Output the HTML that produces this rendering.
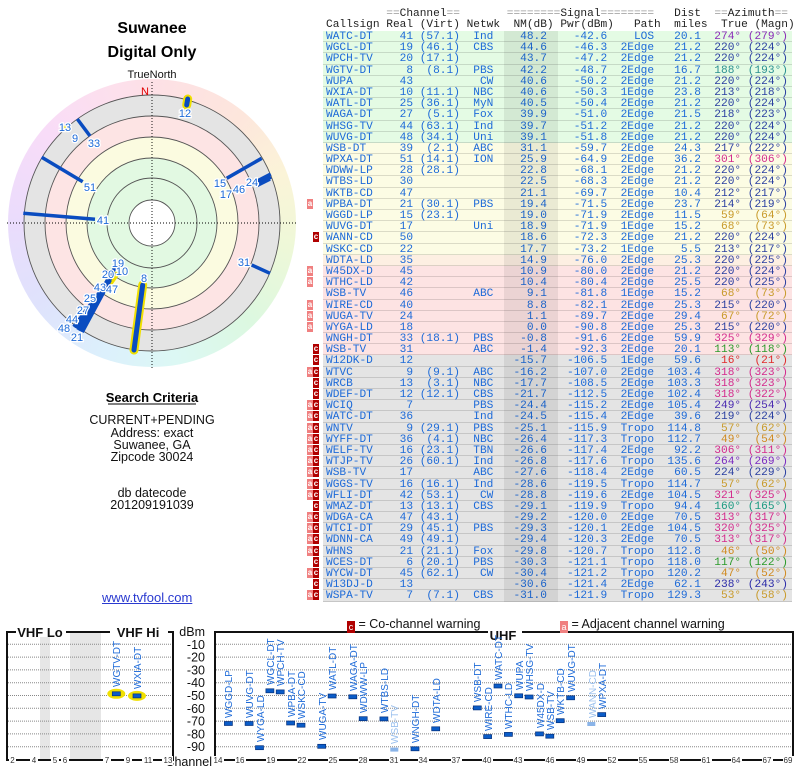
<!DOCTYPE html>
<html><head><meta charset="utf-8">
<style>
body{margin:0;width:800px;height:768px;background:#fff;position:relative;overflow:hidden;font-family:"Liberation Sans",sans-serif}
#svg{position:absolute;left:0;top:0}
.ring{position:absolute;left:8px;top:79px;width:288px;height:288px;border-radius:50%;
background:conic-gradient(from 0deg,#fde0e6,#fde6dc 40deg,#fbf4d8 70deg,#eef8d8 100deg,#dcf8e0 135deg,#dcf8f4 170deg,#dcf0fc 200deg,#dfe2fc 235deg,#eadcfc 270deg,#f8dcf8 310deg,#fde0ec 345deg,#fde0e6)}
.hd{position:absolute;left:326px;font:11.17px "Liberation Mono",monospace;white-space:pre;color:#222;line-height:11px}
.hd i{font-style:normal;color:#999}
#tb{position:absolute;left:323px;top:31px;width:469px}
#tb div{position:relative;height:11.2px;line-height:11.2px;padding-left:3px;box-sizing:border-box;border-bottom:1px solid rgba(0,0,0,0.13);font:11.17px "Liberation Mono",monospace;white-space:pre;color:#1d6ad8}
.g{background:#e4fbe4}.y{background:#fcfce4}.p{background:#fdefe2}.k{background:#fde3e3}.x{background:#e4e4e4}
b.a,b.c{position:absolute;top:0;width:6px;height:10px;font:bold 8px "Liberation Sans",sans-serif;line-height:10px;text-align:center;color:#fff}
b.a{left:-16px;background:#f08080}b.c{left:-10px;background:#b00000}
.nv{color:#2a3fa0}.pp{color:#8a2bb8}.tl{color:#2a9090}.mg{color:#d42a8c}.gd{color:#c89a2a}.gr{color:#2a9a2a}.rd{color:#e02a2a}.or{color:#d08a20}.v2{color:#4a2ab0}.pu{color:#7a2ac0}.tg{color:#1a9a80}.n2{color:#2a2aa8}
#shade{position:absolute;left:504px;top:31px;width:54px;height:571px;background:rgba(0,0,0,0.07)}
.lg{position:absolute;top:617px;font:12.5px "Liberation Sans",sans-serif;color:#111;white-space:pre}
.lg b{display:inline-block;width:8px;height:12px;color:#fff;font:9px "Liberation Sans",sans-serif;line-height:12px;text-align:center;vertical-align:-2px}
a.u{position:absolute;left:102px;top:590px;font:13px "Liberation Sans",sans-serif;color:#2a3ad0;text-decoration:underline}
</style></head><body>
<div class="ring"></div>
<svg id="svg" width="800" height="768" xmlns="http://www.w3.org/2000/svg" font-family="Liberation Sans, sans-serif">
<!-- polar -->
<circle cx="152" cy="223" r="128" fill="#e4e4e4"/>
<circle cx="152" cy="223" r="107" fill="#fde4e4"/>
<circle cx="152" cy="223" r="86" fill="#fbfbe0"/>
<circle cx="152" cy="223" r="65" fill="#e2f9e2"/>
<circle cx="152" cy="223" r="23" fill="#fff"/>
<g fill="none" stroke="#555" stroke-width="0.9">
<circle cx="152" cy="223" r="23"/><circle cx="152" cy="223" r="45"/><circle cx="152" cy="223" r="65"/>
<circle cx="152" cy="223" r="86"/><circle cx="152" cy="223" r="107"/><circle cx="152" cy="223" r="128"/>
</g>
<g stroke="#000" stroke-width="0.9" stroke-dasharray="1,2">
<line x1="7" y1="223" x2="297" y2="223"/><line x1="152" y1="82" x2="152" y2="368"/>
</g>
<text x="152" y="33" font-size="16" font-weight="bold" text-anchor="middle">Suwanee</text>
<text x="152" y="57" font-size="16" font-weight="bold" text-anchor="middle">Digital Only</text>
<text x="152" y="78" font-size="11" text-anchor="middle" fill="#111">TrueNorth</text>
<text x="145" y="95" font-size="11" text-anchor="middle" fill="#e00000">N</text>
<g stroke-linecap="round">
<line x1="187.7" y1="99" x2="186.7" y2="105" stroke="#f0e000" stroke-width="9"/>
<line x1="187.7" y1="99" x2="186.7" y2="105" stroke="#0a4cc0" stroke-width="5"/>
<circle cx="67" cy="128" r="4" fill="#f0e000"/>
<line x1="142.7" y1="285" x2="134" y2="350" stroke="#f0e000" stroke-width="9"/>
<line x1="142.7" y1="285" x2="134" y2="350" stroke="#0a4cc0" stroke-width="5"/>
<line x1="115" y1="275" x2="110" y2="282" stroke="#f0e000" stroke-width="7"/>
</g>
<g stroke="#0a4cc0" stroke-width="3.5">
<line x1="77.3" y1="119" x2="90" y2="136"/>
<line x1="41.7" y1="157.3" x2="82.7" y2="181.7"/>
<line x1="23.3" y1="213.3" x2="95" y2="219.3"/>
<line x1="261.7" y1="158.3" x2="226.7" y2="178.3"/>
<line x1="270.7" y1="174" x2="256.7" y2="181.3"/>
<line x1="271" y1="177" x2="257" y2="184"/>
<line x1="270" y1="179" x2="256" y2="186"/>
<line x1="251.7" y1="265" x2="270" y2="273.3"/>
<line x1="116" y1="266" x2="78" y2="330" stroke-width="4"/>
<line x1="114" y1="272" x2="80" y2="331" stroke-width="4"/>
<line x1="110" y1="280" x2="82" y2="332" stroke-width="4"/>
<line x1="106" y1="285" x2="76" y2="328" stroke-width="4"/>
<line x1="100" y1="292" x2="74" y2="327" stroke-width="4"/>
</g>
<g font-size="11" fill="#1d6ad8" text-anchor="middle" stroke="#fff" stroke-width="2.5" paint-order="stroke">
<text x="185" y="117">12</text><text x="65" y="131">13</text><text x="75" y="142">9</text>
<text x="94" y="147">33</text><text x="90" y="191">51</text><text x="103" y="224">41</text>
<text x="220" y="187">15</text><text x="226" y="198">17</text><text x="239" y="193">46</text><text x="252" y="186">24</text>
<text x="244" y="266">31</text><text x="144" y="282">8</text>
<text x="118" y="267">19</text><text x="122" y="275">10</text><text x="108" y="278">20</text>
<text x="100" y="291">43</text><text x="112" y="293">47</text><text x="90" y="302">25</text>
<text x="83" y="314">27</text><text x="72" y="323">44</text><text x="64" y="332">48</text><text x="77" y="341">21</text>
</g>
<!-- left info -->
<text x="152" y="402" font-size="13" font-weight="bold" text-anchor="middle">Search Criteria</text>
<line x1="108" y1="404" x2="196" y2="404" stroke="#000" stroke-width="1"/>
<g font-size="12.5" text-anchor="middle" fill="#111">
<text x="152" y="424">CURRENT+PENDING</text><text x="152" y="437">Address: exact</text>
<text x="152" y="449">Suwanee, GA</text><text x="152" y="461">Zipcode 30024</text>
<text x="152" y="497">db datecode</text><text x="152" y="509">201209191039</text>
</g>
<!-- bottom chart -->
<rect x="40" y="633" width="10" height="126" fill="#e6e6e6"/>
<rect x="70" y="633" width="31" height="126" fill="#e6e6e6"/>
<g stroke="#888" stroke-width="1" stroke-dasharray="1,1">
<line x1="8" y1="644.3" x2="172" y2="644.3"/><line x1="8" y1="657.1" x2="172" y2="657.1"/><line x1="8" y1="669.9" x2="172" y2="669.9"/><line x1="8" y1="682.7" x2="172" y2="682.7"/><line x1="8" y1="695.5" x2="172" y2="695.5"/><line x1="8" y1="708.3" x2="172" y2="708.3"/><line x1="8" y1="721.1" x2="172" y2="721.1"/><line x1="8" y1="733.9" x2="172" y2="733.9"/><line x1="8" y1="746.7" x2="172" y2="746.7"/>
<line x1="216" y1="644.3" x2="792" y2="644.3"/><line x1="216" y1="657.1" x2="792" y2="657.1"/><line x1="216" y1="669.9" x2="792" y2="669.9"/><line x1="216" y1="682.7" x2="792" y2="682.7"/><line x1="216" y1="695.5" x2="792" y2="695.5"/><line x1="216" y1="708.3" x2="792" y2="708.3"/><line x1="216" y1="721.1" x2="792" y2="721.1"/><line x1="216" y1="733.9" x2="792" y2="733.9"/><line x1="216" y1="746.7" x2="792" y2="746.7"/>
</g>
<rect x="7" y="632" width="166" height="128" fill="none" stroke="#111" stroke-width="2"/>
<rect x="215" y="632" width="578" height="128" fill="none" stroke="#111" stroke-width="2"/>
<rect x="16" y="625" width="50" height="12" fill="#fff"/><rect x="110" y="625" width="58" height="12" fill="#fff"/>
<rect x="488" y="625" width="34" height="14" fill="#fff"/>
<g font-size="13" font-weight="bold" text-anchor="middle" fill="#111">
<text x="40" y="637">VHF Lo</text><text x="138" y="637">VHF Hi</text><text x="503" y="640">UHF</text>
</g>
<g font-size="12.5" text-anchor="end" fill="#111">
<text x="205" y="636">dBm</text>
<text x="205" y="648.8">-10</text><text x="205" y="661.6">-20</text><text x="205" y="674.4">-30</text><text x="205" y="687.2">-40</text><text x="205" y="700">-50</text><text x="205" y="712.8">-60</text><text x="205" y="725.6">-70</text><text x="205" y="738.4">-80</text><text x="205" y="751.2">-90</text>
<text x="212" y="766">Channel</text>
</g>
<g font-size="8" text-anchor="middle" fill="#333">
<g fill="#fff"><rect x="9" y="756" width="7" height="9"/><rect x="30" y="756" width="8" height="9"/><rect x="51" y="756" width="8" height="9"/><rect x="61" y="756" width="8" height="9"/><rect x="103" y="756" width="8" height="9"/><rect x="124" y="756" width="8" height="9"/><rect x="142" y="756" width="11" height="9"/><rect x="162" y="756" width="11" height="9"/>
<rect x="213" y="756" width="11" height="9"/><rect x="235" y="756" width="11" height="9"/><rect x="266" y="756" width="11" height="9"/><rect x="297" y="756" width="11" height="9"/><rect x="328" y="756" width="11" height="9"/><rect x="358" y="756" width="11" height="9"/><rect x="389" y="756" width="11" height="9"/><rect x="418" y="756" width="11" height="9"/><rect x="451" y="756" width="11" height="9"/><rect x="482" y="756" width="11" height="9"/><rect x="513" y="756" width="11" height="9"/><rect x="545" y="756" width="11" height="9"/><rect x="576" y="756" width="11" height="9"/><rect x="607" y="756" width="11" height="9"/><rect x="638" y="756" width="11" height="9"/><rect x="669" y="756" width="11" height="9"/><rect x="701" y="756" width="11" height="9"/><rect x="731" y="756" width="11" height="9"/><rect x="762" y="756" width="11" height="9"/><rect x="783" y="756" width="11" height="9"/></g>
<text x="12.5" y="763">2</text><text x="34" y="763">4</text><text x="55" y="763">5</text><text x="65" y="763">6</text><text x="107" y="763">7</text><text x="128" y="763">9</text><text x="148" y="763">11</text><text x="168" y="763">13</text>
<text x="218" y="763">14</text><text x="240" y="763">16</text><text x="271" y="763">19</text><text x="302" y="763">22</text><text x="333" y="763">25</text><text x="363" y="763">28</text><text x="394" y="763">31</text><text x="423" y="763">34</text><text x="456" y="763">37</text><text x="487" y="763">40</text><text x="518" y="763">43</text><text x="550" y="763">46</text><text x="581" y="763">49</text><text x="612" y="763">52</text><text x="643" y="763">55</text><text x="674" y="763">58</text><text x="706" y="763">61</text><text x="736" y="763">64</text><text x="767" y="763">67</text><text x="788" y="763">69</text>
</g>
<ellipse cx="116.3" cy="693.8" rx="9" ry="5" fill="#f0e000"/>
<ellipse cx="137" cy="695.9" rx="9" ry="5" fill="#f0e000"/>
<g fill="#0a5cc8" stroke="#06307a" stroke-width="0.7">
<rect x="112.3" y="691.8" width="8" height="4"/><rect x="133" y="693.9" width="8" height="4"/>
<rect x="494" y="684" width="8" height="4"/><rect x="265.9" y="688.8" width="8" height="4"/><rect x="276.2" y="689.9" width="8" height="4"/>
<rect x="514.7" y="693.8" width="8" height="4"/><rect x="328.1" y="694" width="8" height="4"/><rect x="348.8" y="694.8" width="8" height="4"/>
<rect x="525.1" y="695" width="8" height="4"/><rect x="566.6" y="695.8" width="8" height="4"/><rect x="473.3" y="705.9" width="8" height="4"/>
<rect x="597.7" y="712.6" width="8" height="4"/><rect x="359.2" y="716.7" width="8" height="4"/><rect x="379.9" y="716.9" width="8" height="4"/>
<rect x="556.2" y="718.7" width="8" height="4"/><rect x="286.6" y="721" width="8" height="4"/><rect x="224.4" y="721.5" width="8" height="4"/>
<rect x="245.1" y="721.5" width="8" height="4"/><rect x="297" y="723.2" width="8" height="4"/><rect x="431.7" y="726.8" width="8" height="4"/>
<rect x="535.5" y="731.9" width="8" height="4"/><rect x="504.4" y="732.4" width="8" height="4"/><rect x="545.8" y="734.2" width="8" height="4"/>
<rect x="483.6" y="734.6" width="8" height="4"/><rect x="317.7" y="744.3" width="8" height="4"/><rect x="255.5" y="745.7" width="8" height="4"/>
<rect x="411" y="746.8" width="8" height="4"/>
</g>
<rect x="587.3" y="722" width="8" height="4" fill="#8ab4e8"/><rect x="390.3" y="747.6" width="8" height="4" fill="#8ab4e8"/>
<g font-size="10" fill="#1d6ad8">
<text transform="translate(120,687) rotate(-90)">WGTV-DT</text><text transform="translate(141,689) rotate(-90)">WXIA-DT</text>
<text transform="translate(502,680) rotate(-90)">WATC-DT</text><text transform="translate(274,685) rotate(-90)">WGCL-DT</text><text transform="translate(284,686) rotate(-90)">WPCH-TV</text>
<text transform="translate(523,690) rotate(-90)">WUPA</text><text transform="translate(336,690) rotate(-90)">WATL-DT</text><text transform="translate(357,691) rotate(-90)">WAGA-DT</text>
<text transform="translate(533,691) rotate(-90)">WHSG-TV</text><text transform="translate(575,692) rotate(-90)">WUVG-DT</text><text transform="translate(481,702) rotate(-90)">WSB-DT</text>
<text transform="translate(606,709) rotate(-90)">WPXA-DT</text><text transform="translate(367,713) rotate(-90)">WDWW-LP</text><text transform="translate(388,713) rotate(-90)">WTBS-LD</text>
<text transform="translate(564,715) rotate(-90)">WKTB-CD</text><text transform="translate(295,717) rotate(-90)">WPBA-DT</text><text transform="translate(232,718) rotate(-90)">WGGD-LP</text>
<text transform="translate(253,718) rotate(-90)">WUVG-DT</text><text transform="translate(305,719) rotate(-90)">WSKC-CD</text><text transform="translate(440,723) rotate(-90)">WDTA-LD</text>
<text transform="translate(544,728) rotate(-90)">W45DX-D</text><text transform="translate(512,729) rotate(-90)">WTHC-LD</text><text transform="translate(554,730) rotate(-90)">WSB-TV</text>
<text transform="translate(492,731) rotate(-90)">WIRE-CD</text><text transform="translate(326,740) rotate(-90)">WUGA-TV</text><text transform="translate(264,742) rotate(-90)">WYGA-LD</text>
<text transform="translate(419,743) rotate(-90)">WNGH-DT</text>
<text fill="#9ac0ee" transform="translate(596,718) rotate(-90)">WANN-CD</text><text fill="#9ac0ee" transform="translate(398,744) rotate(-90)">WSB-TV</text>
</g>
</svg>
<a class="u">www.tvfool.com</a>
<div class="lg" style="left:347px"><b style="background:#b00000">c</b> = Co-channel warning</div>
<div class="lg" style="left:560px"><b style="background:#f08080">a</b> = Adjacent channel warning</div>
<div class="hd" style="top:9px"><i>         ==</i>Channel<i>==       ========</i>Signal<i>========</i>   Dist  <i>==</i>Azimuth<i>==</i></div>
<div class="hd" style="top:20px">Callsign Real (Virt) Netwk  NM(dB) Pwr(dBm)   Path  miles  True (Magn)</div>
<div id="tb">
<div class="g">WATC-DT    41 (57.1)  Ind    48.2    -42.6    LOS   20.1<span class="pp">  274° (279°)</span></div>
<div class="g">WGCL-DT    19 (46.1)  CBS    44.6    -46.3  2Edge   21.2<span class="nv">  220° (224°)</span></div>
<div class="g">WPCH-TV    20 (17.1)         43.7    -47.2  2Edge   21.2<span class="nv">  220° (224°)</span></div>
<div class="g">WGTV-DT     8  (8.1)  PBS    42.2    -48.7  2Edge   16.7<span class="tl">  188° (193°)</span></div>
<div class="g">WUPA       43          CW    40.6    -50.2  2Edge   21.2<span class="nv">  220° (224°)</span></div>
<div class="g">WXIA-DT    10 (11.1)  NBC    40.6    -50.3  1Edge   23.8<span class="nv">  213° (218°)</span></div>
<div class="g">WATL-DT    25 (36.1)  MyN    40.5    -50.4  2Edge   21.2<span class="nv">  220° (224°)</span></div>
<div class="g">WAGA-DT    27  (5.1)  Fox    39.9    -51.0  2Edge   21.5<span class="nv">  218° (223°)</span></div>
<div class="g">WHSG-TV    44 (63.1)  Ind    39.7    -51.2  2Edge   21.2<span class="nv">  220° (224°)</span></div>
<div class="g">WUVG-DT    48 (34.1)  Uni    39.1    -51.8  2Edge   21.2<span class="nv">  220° (224°)</span></div>
<div class="y">WSB-DT     39  (2.1)  ABC    31.1    -59.7  2Edge   24.3<span class="nv">  217° (222°)</span></div>
<div class="y">WPXA-DT    51 (14.1)  ION    25.9    -64.9  2Edge   36.2<span class="mg">  301° (306°)</span></div>
<div class="y">WDWW-LP    28 (28.1)         22.8    -68.1  2Edge   21.2<span class="nv">  220° (224°)</span></div>
<div class="y">WTBS-LD    30                22.5    -68.3  2Edge   21.2<span class="nv">  220° (224°)</span></div>
<div class="y">WKTB-CD    47                21.1    -69.7  2Edge   10.4<span class="nv">  212° (217°)</span></div>
<div class="y"><b class="a">a</b>WPBA-DT    21 (30.1)  PBS    19.4    -71.5  2Edge   23.7<span class="nv">  214° (219°)</span></div>
<div class="y">WGGD-LP    15 (23.1)         19.0    -71.9  2Edge   11.5<span class="gd">   59°  (64°)</span></div>
<div class="y">WUVG-DT    17         Uni    18.9    -71.9  1Edge   15.2<span class="gd">   68°  (73°)</span></div>
<div class="y"><b class="c">c</b>WANN-CD    50                18.6    -72.3  2Edge   21.2<span class="nv">  220° (224°)</span></div>
<div class="y">WSKC-CD    22                17.7    -73.2  1Edge    5.5<span class="nv">  213° (217°)</span></div>
<div class="p">WDTA-LD    35                14.9    -76.0  2Edge   25.3<span class="nv">  220° (225°)</span></div>
<div class="k"><b class="a">a</b>W45DX-D    45                10.9    -80.0  2Edge   21.2<span class="nv">  220° (224°)</span></div>
<div class="k"><b class="a">a</b>WTHC-LD    42                10.4    -80.4  2Edge   25.5<span class="nv">  220° (225°)</span></div>
<div class="k">WSB-TV     46         ABC     9.1    -81.8  1Edge   15.2<span class="gd">   68°  (73°)</span></div>
<div class="k"><b class="a">a</b>WIRE-CD    40                 8.8    -82.1  2Edge   25.3<span class="nv">  215° (220°)</span></div>
<div class="k"><b class="a">a</b>WUGA-TV    24                 1.1    -89.7  2Edge   29.4<span class="gd">   67°  (72°)</span></div>
<div class="k"><b class="a">a</b>WYGA-LD    18                 0.0    -90.8  2Edge   25.3<span class="nv">  215° (220°)</span></div>
<div class="k">WNGH-DT    33 (18.1)  PBS    -0.8    -91.6  2Edge   59.9<span class="mg">  325° (329°)</span></div>
<div class="k"><b class="c">c</b>WSB-TV     31         ABC    -1.4    -92.3  2Edge   20.1<span class="gr">  113° (118°)</span></div>
<div class="x"><b class="c">c</b>W12DK-D    12               -15.7   -106.5  1Edge   59.6<span class="rd">   16°  (21°)</span></div>
<div class="x"><b class="a">a</b><b class="c">c</b>WTVC        9  (9.1)  ABC   -16.2   -107.0  2Edge  103.4<span class="mg">  318° (323°)</span></div>
<div class="x"><b class="c">c</b>WRCB       13  (3.1)  NBC   -17.7   -108.5  2Edge  103.3<span class="mg">  318° (323°)</span></div>
<div class="x"><b class="c">c</b>WDEF-DT    12 (12.1)  CBS   -21.7   -112.5  2Edge  102.4<span class="mg">  318° (322°)</span></div>
<div class="x"><b class="a">a</b><b class="c">c</b>WCIQ        7         PBS   -24.4   -115.2  2Edge  105.4<span class="v2">  249° (254°)</span></div>
<div class="x"><b class="a">a</b><b class="c">c</b>WATC-DT    36         Ind   -24.5   -115.4  2Edge   39.6<span class="nv">  219° (224°)</span></div>
<div class="x"><b class="a">a</b><b class="c">c</b>WNTV        9 (29.1)  PBS   -25.1   -115.9  Tropo  114.8<span class="gd">   57°  (62°)</span></div>
<div class="x"><b class="a">a</b><b class="c">c</b>WYFF-DT    36  (4.1)  NBC   -26.4   -117.3  Tropo  112.7<span class="or">   49°  (54°)</span></div>
<div class="x"><b class="a">a</b><b class="c">c</b>WELF-TV    16 (23.1)  TBN   -26.6   -117.4  2Edge   92.2<span class="mg">  306° (311°)</span></div>
<div class="x"><b class="a">a</b><b class="c">c</b>WTJP-TV    26 (60.1)  Ind   -26.8   -117.6  Tropo  135.6<span class="pu">  264° (269°)</span></div>
<div class="x"><b class="a">a</b><b class="c">c</b>WSB-TV     17         ABC   -27.6   -118.4  2Edge   60.5<span class="nv">  224° (229°)</span></div>
<div class="x"><b class="a">a</b><b class="c">c</b>WGGS-TV    16 (16.1)  Ind   -28.6   -119.5  Tropo  114.7<span class="gd">   57°  (62°)</span></div>
<div class="x"><b class="a">a</b><b class="c">c</b>WFLI-DT    42 (53.1)   CW   -28.8   -119.6  2Edge  104.5<span class="mg">  321° (325°)</span></div>
<div class="x"><b class="c">c</b>WMAZ-DT    13 (13.1)  CBS   -29.1   -119.9  Tropo   94.4<span class="tg">  160° (165°)</span></div>
<div class="x"><b class="a">a</b><b class="c">c</b>WDGA-CA    47 (43.1)        -29.2   -120.0  2Edge   70.5<span class="mg">  313° (317°)</span></div>
<div class="x"><b class="a">a</b><b class="c">c</b>WTCI-DT    29 (45.1)  PBS   -29.3   -120.1  2Edge  104.5<span class="mg">  320° (325°)</span></div>
<div class="x"><b class="a">a</b><b class="c">c</b>WDNN-CA    49 (49.1)        -29.4   -120.3  2Edge   70.5<span class="mg">  313° (317°)</span></div>
<div class="x"><b class="a">a</b><b class="c">c</b>WHNS       21 (21.1)  Fox   -29.8   -120.7  Tropo  112.8<span class="or">   46°  (50°)</span></div>
<div class="x"><b class="c">c</b>WCES-DT     6 (20.1)  PBS   -30.3   -121.1  Tropo  118.0<span class="gr">  117° (122°)</span></div>
<div class="x"><b class="a">a</b><b class="c">c</b>WYCW-DT    45 (62.1)   CW   -30.4   -121.2  Tropo  120.2<span class="or">   47°  (52°)</span></div>
<div class="x"><b class="c">c</b>W13DJ-D    13               -30.6   -121.4  2Edge   62.1<span class="n2">  238° (243°)</span></div>
<div class="x"><b class="a">a</b><b class="c">c</b>WSPA-TV     7  (7.1)  CBS   -31.0   -121.9  Tropo  129.3<span class="gd">   53°  (58°)</span></div>
</div>
<div id="shade"></div>
</body></html>
